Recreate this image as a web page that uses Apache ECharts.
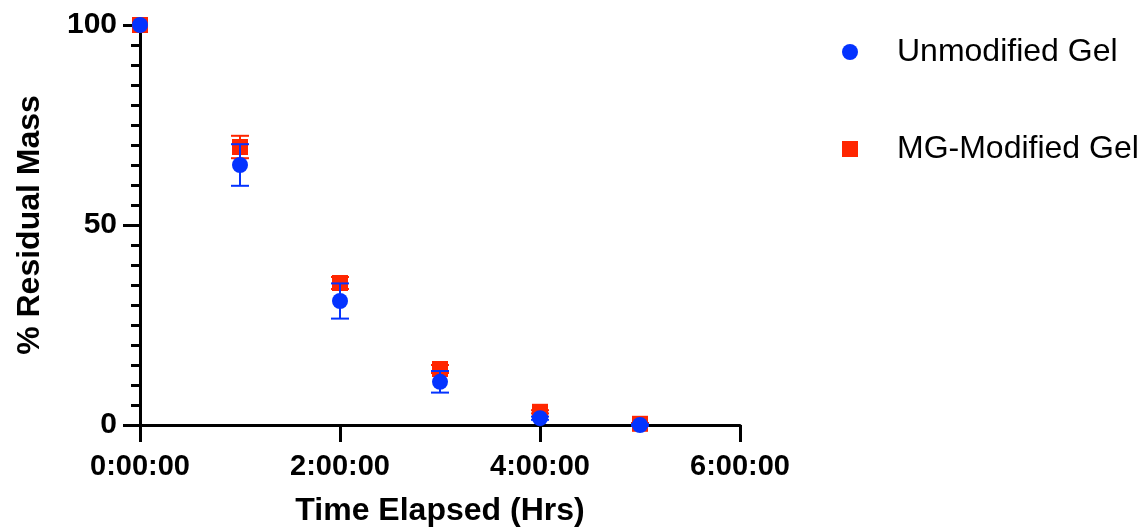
<!DOCTYPE html>
<html>
<head>
<meta charset="utf-8">
<script src="https://cdn.jsdelivr.net/npm/echarts@6/dist/echarts.min.js"></script>
<style>
html,body{margin:0;padding:0;background:#fff;}
#chart{width:1141px;height:529px;}
</style>
</head>
<body>
<div id="chart"></div>
<script>
// Data
var hours = [0, 1, 2, 3, 4, 5];
var unmodified = [100, 65, 31, 10.8, 1.7, 0];
var unmodifiedErr = [0, 5.2, 4.4, 2.7, 0.4, 0.2];
var mgModified = [100, 69.5, 35.5, 14, 3.3, 0.3];
var mgModifiedErr = [0, 2.8, 1.5, 1, 0.4, 0.2];
var xTicks = ['0:00:00', '2:00:00', '4:00:00', '6:00:00'];
var yTicks = [0, 50, 100];

var BLUE = '#0433FF';
var RED = '#FF2600';
var FONT = '"Liberation Sans", Arial, Helvetica, sans-serif';

function pts(vals) { return hours.map(function (h, i) { return [h, vals[i]]; }); }
function errs(vals, e) { return hours.map(function (h, i) { return [h, vals[i] - e[i], vals[i] + e[i]]; }); }

function errRender(color) {
  return function (params, api) {
    var lo = api.coord([api.value(0), api.value(1)]);
    var hi = api.coord([api.value(0), api.value(2)]);
    if (Math.abs(hi[1] - lo[1]) < 0.5) return null;
    var hw = 9;
    var st = { stroke: color, lineWidth: 2 };
    return {
      type: 'group',
      children: [
        { type: 'line', shape: { x1: lo[0], y1: lo[1], x2: hi[0], y2: hi[1] }, style: st },
        { type: 'line', shape: { x1: lo[0] - hw, y1: lo[1], x2: lo[0] + hw, y2: lo[1] }, style: st },
        { type: 'line', shape: { x1: hi[0] - hw, y1: hi[1], x2: hi[0] + hw, y2: hi[1] }, style: st }
      ]
    };
  };
}

var chart = echarts.init(document.getElementById('chart'), null, { renderer: 'canvas' });
chart.setOption({
  animation: false,
  backgroundColor: '#fff',
  textStyle: { fontFamily: FONT },
  grid: { left: 140, right: 401, top: 25, bottom: 104, containLabel: false, outerBoundsMode: 'none' },
  legend: {
    orient: 'vertical',
    left: 842,
    top: 36,
    padding: 0,
    itemWidth: 84,
    itemHeight: 16,
    itemGap: 65,
    symbolKeepAspect: true,
    textStyle: { fontFamily: FONT, fontSize: 32, color: '#000', lineHeight: 32 },
    data: [
      { name: 'Unmodified Gel', icon: 'circle' },
      { name: 'MG-Modified Gel', icon: 'path://M0 0H10V10H0Z' }
    ]
  },
  xAxis: {
    type: 'value',
    min: 0, max: 6, interval: 2,
    name: 'Time Elapsed (Hrs)',
    nameLocation: 'middle',
    nameGap: 70,
    nameTextStyle: { fontFamily: FONT, fontSize: 32, fontWeight: 'bold', color: '#000' },
    axisLine: { show: true, onZero: false, lineStyle: { color: '#000', width: 3 } },
    axisTick: { show: true, length: 17, lineStyle: { color: '#000', width: 3 } },
    axisLabel: {
      margin: 27, fontFamily: FONT, fontSize: 29, fontWeight: 'bold', color: '#000',
      formatter: function (v) { return xTicks[Math.round(v / 2)]; }
    },
    splitLine: { show: false }
  },
  yAxis: {
    type: 'value',
    min: 0, max: 100, interval: 50,
    name: '% Residual Mass',
    nameLocation: 'middle',
    nameGap: 94,
    nameTextStyle: { fontFamily: FONT, fontSize: 32, fontWeight: 'bold', color: '#000' },
    axisLine: { show: true, lineStyle: { color: '#000', width: 3 } },
    axisTick: { show: true, length: 17, lineStyle: { color: '#000', width: 3 } },
    minorTick: { show: true, splitNumber: 10, length: 9, lineStyle: { color: '#000', width: 3 } },
    axisLabel: {
      margin: 23, fontFamily: FONT, fontSize: 30, fontWeight: 'bold', color: '#000',
      formatter: function (v) { return yTicks.indexOf(v) >= 0 ? String(v) : ''; }
    },
    splitLine: { show: false },
    minorSplitLine: { show: false }
  },
  series: [
    {
      name: 'MG-Modified Gel err', type: 'custom', z: 2,
      renderItem: errRender(RED), data: errs(mgModified, mgModifiedErr),
      encode: { x: 0, y: [1, 2] }, clip: false, silent: true
    },
    {
      name: 'MG-Modified Gel', type: 'scatter', z: 3,
      symbol: 'rect', symbolSize: 16, itemStyle: { color: RED, opacity: 1 },
      data: pts(mgModified), clip: false
    },
    {
      name: 'Unmodified Gel err', type: 'custom', z: 4,
      renderItem: errRender(BLUE), data: errs(unmodified, unmodifiedErr),
      encode: { x: 0, y: [1, 2] }, clip: false, silent: true
    },
    {
      name: 'Unmodified Gel', type: 'scatter', z: 5,
      symbol: 'circle', symbolSize: 16, itemStyle: { color: BLUE, opacity: 1 },
      data: pts(unmodified), clip: false
    }
  ]
});
</script>
</body>
</html>
